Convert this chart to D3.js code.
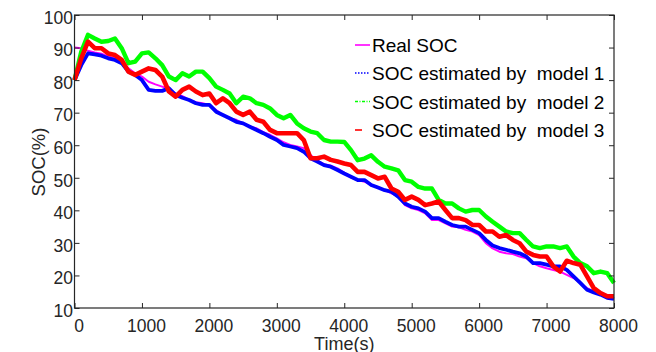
<!DOCTYPE html>
<html>
<head>
<meta charset="utf-8">
<script src="https://cdn.jsdelivr.net/npm/d3@7"></script>
<style>
  body { margin: 0; background: #fff; }
  svg { display: block; font-family: "Liberation Sans", Arial, sans-serif; }
</style>
</head>
<body>
<svg width="656" height="352"></svg>
<script>
// time axis, one reading every 100 s
const timeS = d3.range(0, 8001, 100);

const realSoc = [
  90.0, 89.8, 89.0, 88.5, 88.1, 87.3, 86.7, 85.7, 83.6, 82.1,
  81.1, 79.5, 78.7, 78.0, 77.3, 75.9, 75.1, 73.9, 73.2, 72.9,
  72.4, 70.8, 69.3, 68.3, 67.8, 66.7, 65.7, 65.2, 64.0, 63.2,
  62.1, 60.9, 60.1, 59.6, 59.1, 57.0, 55.3, 54.2, 53.7, 52.9,
  51.5, 50.1, 49.3, 48.8, 47.8, 47.0, 46.2, 45.2, 44.2, 41.6,
  40.6, 40.1, 39.1, 37.0, 37.0, 36.0, 35.0, 34.8, 34.0, 33.5,
  32.4, 29.9, 28.3, 27.3, 26.8, 26.6, 25.8, 25.3, 23.8, 22.8,
  22.2, 21.7, 21.2, 20.2, 19.2, 17.7, 16.1, 15.1, 14.6, 13.6,
  12.8
];

const model1 = [
  80.0, 84.6, 88.2, 87.9, 87.5, 86.7, 86.2, 85.2, 82.6, 81.6,
  80.0, 77.0, 76.7, 76.7, 77.5, 75.4, 74.6, 73.9, 72.9, 72.4,
  72.4, 70.3, 69.3, 68.3, 67.2, 66.7, 65.7, 64.7, 63.7, 62.6,
  61.6, 60.1, 59.6, 59.1, 58.0, 56.0, 55.0, 53.9, 53.4, 52.4,
  51.3, 50.3, 49.3, 49.3, 47.8, 47.0, 46.2, 45.7, 44.2, 42.1,
  41.1, 40.6, 39.6, 37.6, 37.6, 36.5, 35.5, 35.0, 35.0, 34.0,
  33.0, 30.9, 29.2, 28.4, 27.9, 27.3, 26.8, 25.8, 23.8, 23.8,
  23.3, 22.8, 22.8, 21.7, 19.7, 17.7, 15.6, 14.8, 14.1, 13.1,
  12.8
];

const model2 = [
  80.0, 88.7, 93.9, 92.8, 91.8, 92.0, 92.8, 89.8, 85.2, 85.7,
  88.2, 88.5, 86.7, 84.6, 81.1, 80.0, 82.1, 81.1, 82.6, 82.6,
  80.6, 78.0, 77.0, 75.9, 72.9, 74.9, 74.4, 72.9, 72.4, 71.3,
  69.3, 68.3, 69.3, 66.7, 65.2, 64.2, 63.7, 61.6, 61.1, 61.1,
  61.0, 58.5, 55.4, 55.9, 56.9, 54.9, 53.4, 52.9, 52.3, 49.3,
  48.8, 47.2, 46.7, 46.7, 43.2, 42.1, 42.1, 40.6, 39.6, 40.1,
  40.1, 38.1, 36.5, 35.0, 33.5, 33.0, 33.0, 30.9, 28.9, 28.4,
  28.9, 28.9, 28.4, 28.9, 25.8, 23.8, 22.8, 20.7, 21.2, 20.7,
  17.7
];

const model3 = [
  80.0, 86.7, 91.8, 89.8, 89.8, 88.2, 87.7, 86.2, 82.6, 81.6,
  82.6, 83.6, 83.1, 81.1, 76.5, 74.9, 77.0, 78.0, 76.5, 75.4,
  75.9, 72.9, 74.4, 72.9, 70.3, 69.3, 70.3, 67.8, 67.2, 64.7,
  63.7, 63.7, 63.7, 63.7, 61.6, 56.0, 56.0, 56.5, 55.5, 55.0,
  54.4, 53.9, 51.8, 51.8, 50.8, 49.8, 50.3, 46.7, 45.7, 43.2,
  44.2, 43.2, 41.6, 42.1, 42.7, 40.1, 37.6, 37.6, 37.0, 35.5,
  35.5, 33.5, 33.5, 31.9, 32.4, 30.9, 29.9, 27.3, 26.3, 25.8,
  25.8, 22.8, 21.2, 24.5, 23.8, 23.3, 19.7, 16.1, 14.6, 13.6,
  13.6
];

const xTicks = [0, 1000, 2000, 3000, 4000, 5000, 6000, 7000, 8000];
const yTicks = [10, 20, 30, 40, 50, 60, 70, 80, 90, 100];

const seriesNames = ['Real SOC', 'SOC estimated by  model 1', 'SOC estimated by  model 2', 'SOC estimated by  model 3'];
const seriesColors = ['#ff00ff', '#0000ff', '#00ff00', '#ff0000'];

const plot = { left: 74.5, right: 614, top: 15, bottom: 308 };
const textColor = '#262626';

const svg = d3.select('svg');
svg.append('rect').attr('width', 656).attr('height', 352).attr('fill', '#fff');

const x = d3.scaleLinear().domain([0, 8000]).range([plot.left, plot.right]);
const y = d3.scaleLinear().domain([10, 100]).range([plot.bottom, plot.top]);

// series lines
const line = d3.line()
  .x((d, i) => x(timeS[i]))
  .y(d => y(d));

const allSeries = [realSoc, model1, model2, model3];
const widths = [2, 3.8, 4.4, 4.6];

svg.append('g')
  .selectAll('path')
  .data(allSeries)
  .enter().append('path')
  .attr('d', d => line(d))
  .attr('fill', 'none')
  .attr('stroke', (d, i) => seriesColors[i])
  .attr('stroke-width', (d, i) => widths[i])
  .attr('stroke-linejoin', 'round');

// axes (ticks point inwards, box all round)
const styleAxis = g => {
  g.attr('font-family', null).attr('font-size', 17.5);
  g.select('.domain').remove();
  g.selectAll('.tick line').attr('stroke', textColor);
  g.selectAll('.tick text').attr('fill', textColor);
};

svg.append('g')
  .attr('transform', `translate(0,${plot.bottom})`)
  .call(d3.axisBottom(x).tickValues(xTicks).tickFormat(d3.format('d'))
    .tickSizeInner(-5).tickSizeOuter(0).tickPadding(11.5))
  .call(styleAxis)
  .call(g => g.selectAll('.tick text').attr('dx', 4));

svg.append('g')
  .attr('transform', `translate(0,${plot.top})`)
  .call(d3.axisTop(x).tickValues(xTicks).tickSizeInner(-5).tickSizeOuter(0).tickFormat(''))
  .call(styleAxis);

svg.append('g')
  .attr('transform', `translate(${plot.left},0)`)
  .call(d3.axisLeft(y).tickValues(yTicks).tickFormat(d3.format('d'))
    .tickSizeInner(-5).tickSizeOuter(0).tickPadding(1.5))
  .call(styleAxis)
  .call(g => g.selectAll('.tick text').attr('dy', '0.47em'));

svg.append('g')
  .attr('transform', `translate(${plot.right},0)`)
  .call(d3.axisRight(y).tickValues(yTicks).tickSizeInner(-5).tickSizeOuter(0).tickFormat(''))
  .call(styleAxis);

svg.append('rect')
  .attr('x', plot.left).attr('y', plot.top)
  .attr('width', plot.right - plot.left).attr('height', plot.bottom - plot.top)
  .attr('fill', 'none').attr('stroke', textColor).attr('stroke-width', 1.2);

// axis titles
svg.append('text')
  .attr('x', (plot.left + plot.right) / 2).attr('y', 349.5)
  .attr('text-anchor', 'middle')
  .attr('font-size', 18).attr('fill', textColor)
  .text('Time(s)');

svg.append('text')
  .attr('transform', 'translate(45,162) rotate(-90)')
  .attr('text-anchor', 'middle')
  .attr('font-size', 18.5).attr('fill', textColor)
  .text('SOC(%)');

// legend
const dashes = [null, '1.5,1.5', '3,1.5,1,1.5', null];
const legend = svg.append('g');
const rowY = [45, 73, 101.5, 130];

seriesNames.forEach((name, i) => {
  legend.append('line')
    .attr('x1', 355).attr('x2', i === 3 ? 362 : 370)
    .attr('y1', rowY[i]).attr('y2', rowY[i])
    .attr('stroke', seriesColors[i])
    .attr('stroke-width', 1.6)
    .attr('stroke-dasharray', dashes[i]);
  legend.append('text')
    .attr('x', 372).attr('y', rowY[i] + 7)
    .attr('font-size', 19).attr('fill', '#000')
    .style('white-space', 'pre')
    .text(name);
});
</script>
</body>
</html>
